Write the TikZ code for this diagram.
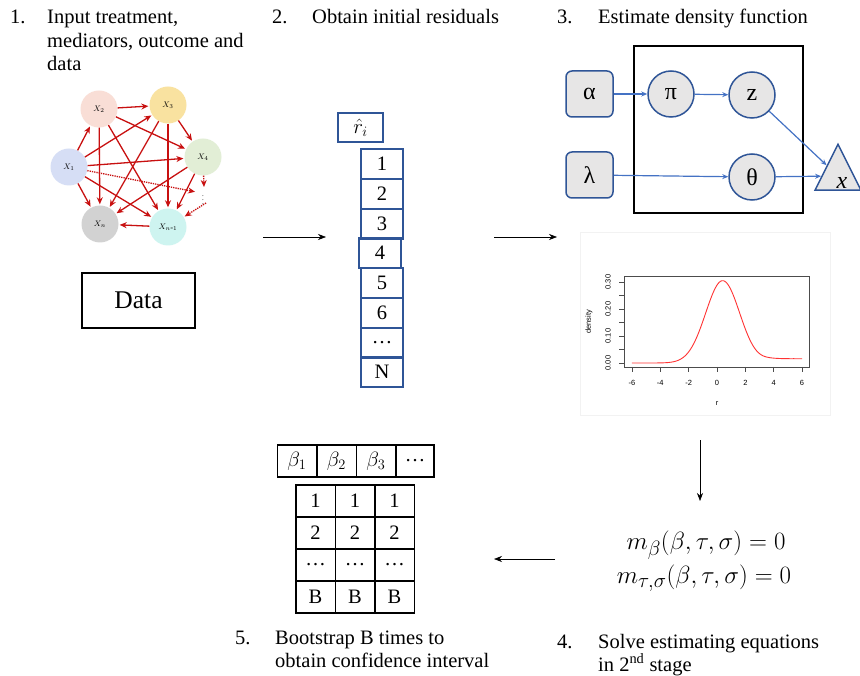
\documentclass[tikz,border=0pt]{standalone}
\usepackage{fontspec}
\setmainfont{Liberation Serif}
\newfontfamily\plotfont{Liberation Sans}
\usetikzlibrary{arrows.meta,shapes.geometric,calc}
\definecolor{edgered}{RGB}{200,16,16}
\definecolor{boxblue}{RGB}{47,85,151}
\definecolor{arrblue}{RGB}{68,114,196}
\definecolor{nodefill}{RGB}{231,230,230}
\definecolor{cA}{RGB}{214,222,245}
\definecolor{cB}{RGB}{249,222,214}
\definecolor{cC}{RGB}{249,226,160}
\definecolor{cD}{RGB}{226,238,214}
\definecolor{cE}{RGB}{210,210,210}
\definecolor{cF}{RGB}{206,244,240}
\begin{document}
\begin{tikzpicture}[x=1pt,y=-1pt,
  title/.style={anchor=base west, font=\fontsize{20.5}{24}\selectfont, inner sep=0},
  gnode/.style={circle, minimum size=37pt, inner sep=0, font=\fontsize{8.5}{9}\selectfont},
  redge/.style={-{Stealth[length=7pt,width=6pt]}, edgered, line width=1.3pt, shorten >=1pt},
  dedge/.style={redge, densely dotted},
  rcell/.style={draw=boxblue, line width=1.5pt, minimum width=42pt, minimum height=30pt, inner sep=0, font=\fontsize{20.5}{24}\selectfont},
  tcell/.style={draw=black, line width=1.5pt, minimum width=39.5pt, minimum height=32pt, inner sep=0, font=\fontsize{20.5}{24}\selectfont},
  hcell/.style={tcell, minimum width=39.5pt},
  pbox/.style={draw=boxblue, line width=1.5pt, fill=nodefill, rounded corners=6pt, minimum width=47pt, minimum height=46pt, inner sep=0, font=\fontsize{24}{28}\selectfont},
  pcirc/.style={draw=boxblue, line width=1.5pt, fill=nodefill, circle, minimum size=46pt, inner sep=0, font=\fontsize{24}{28}\selectfont},
  barrow/.style={-{Stealth[length=6pt,width=5pt]}, arrblue, line width=1.2pt},
  karrow/.style={-{Stealth[length=8pt,width=6pt]}, black, line width=0.6pt},
  plotlbl/.style={font=\plotfont\fontsize{7.5}{8}\selectfont, inner sep=0}
]
\useasboundingbox (0,0) rectangle (860,676);
\fill[white] (0,0) rectangle (860,676);

% ---------- titles ----------
\node[title] (t1n) at (10,24) {1.};
\node[title] (t1a) at (47,24) {Input treatment,};
\node[title] (t1b) at (47,48) {mediators, outcome and};
\node[title] (t1c) at (47,71) {data};
\node[title] (t2n) at (272,24) {2.};
\node[title] (t2a) at (312,24) {Obtain initial residuals};
\node[title] (t3n) at (557,24) {3.};
\node[title] (t3a) at (598,24) {Estimate density function};
\node[title] (t5n) at (235,644) {5.};
\node[title] (t5a) at (275,644) {Bootstrap B times to};
\node[title] (t5b) at (275,667) {obtain confidence interval};
\node[title] (t4n) at (557,648) {4.};
\node[title] (t4a) at (598,648) {Solve estimating equations};
\node[title] (t4b) at (598,671) {in 2\textsuperscript{nd} stage};

% ---------- DAG ----------
\node[gnode, fill=cA] (x1) at (69,167) {$X_1$};
\node[gnode, fill=cB] (x2) at (99,109) {$X_2$};
\node[gnode, fill=cC] (x3) at (168,105) {$X_3$};
\node[gnode, fill=cD] (x4) at (203,157) {$X_4$};
\node[gnode, fill=cE] (xn) at (100,224) {$X_n$};
\node[gnode, fill=cF] (xm) at (168,227) {$X_{n\mbox{-}1}$};
\node[inner sep=0, font=\fontsize{7}{7}\selectfont] (dots) at (203,197) {$\vdots$};
\coordinate (d1) at (196,192);
\coordinate (d2) at (204,188);
\coordinate (d3) at (206,203);

\draw[redge] (x2) -- (x3);
\draw[redge] (x2) -- (x4);
\draw[redge] (x2) -- (xn);
\draw[redge] (x2) -- (xm);
\draw[redge] (x1) -- (x2);
\draw[redge] (x1) -- (x3);
\draw[redge] (x1) -- (x4);
\draw[redge] (x1) -- (xn);
\draw[redge] (x1) -- (xm);
\draw[redge] (x3) -- (x4);
\draw[redge] (x3) -- (xn);
\draw[redge] (x3) -- (xm);
\draw[redge] (x4) -- (xn);
\draw[redge] (x4) -- (xm);
\draw[redge] (xm) -- (xn);
\draw[dedge] (x1) -- (d1);
\draw[dedge] (x4) -- (d2);
\draw[dedge] (d3) -- (xm);

\node[draw, line width=1.5pt, minimum width=113pt, minimum height=55pt, inner sep=0, font=\fontsize{25.5}{28}\selectfont] (data) at (138.5,300.5) {Data};

% ---------- arrows between steps ----------
\coordinate (a1s) at (263,237); \coordinate (a1e) at (326,237);
\draw[karrow] (a1s) -- (a1e);
\coordinate (a2s) at (494,237); \coordinate (a2e) at (557,237);
\draw[karrow] (a2s) -- (a2e);
\coordinate (a3s) at (700,440); \coordinate (a3e) at (700,501);
\draw[karrow] (a3s) -- (a3e);
\coordinate (a4s) at (555,559); \coordinate (a4e) at (494,559);
\draw[karrow] (a4s) -- (a4e);

% ---------- residuals ----------
\node[rcell, minimum width=45pt, minimum height=29pt, font=\fontsize{22}{24}\selectfont] (rh) at (360.5,127.5) {$\hat{r}_i$};
\node[rcell] (c1) at (382,164) {1};
\node[rcell] (c2) at (382,194) {2};
\node[rcell] (c3) at (382,224) {3};
\node[rcell] (c4) at (380,253) {4};
\node[rcell] (c5) at (382,283) {5};
\node[rcell] (c6) at (382,313) {6};
\node[rcell] (c7) at (382,343) {\dots};
\node[rcell] (c8) at (382,372) {N};

% ---------- graphical model ----------
\draw[line width=1.5pt] (634,46) rectangle (803,213);
\node[pbox] (al) at (589.5,94) {α};
\node[pbox] (la) at (589.5,175) {λ};
\node[pcirc] (pi) at (671,94) {π};
\node[pcirc] (zz) at (752,95) {z};
\node[pcirc] (th) at (752,177) {θ};
\node[draw=boxblue, line width=1.5pt, fill=nodefill, isosceles triangle, shape border rotate=90, isosceles triangle stretches, minimum width=46pt, minimum height=46pt, inner sep=0] (tri) at (838,176) {};
\node[inner sep=0, font=\fontsize{24}{28}\selectfont] (xlab) at (842,183) {\textit{x}};
\draw[barrow] (al) -- (pi);
\draw[barrow] (pi) -- (zz);
\draw[barrow] (la) -- (th);
\draw[barrow] (zz) -- (tri);
\draw[barrow] (th) -- (tri);

% ---------- density plot ----------
\draw[black!5, line width=0.6pt] (580,232) rectangle (830,415);
\draw[black!70, line width=0.7pt] (624,276) rectangle (809,367);
\foreach \r in {-6,-4,...,6} {
  \draw[black!70, line width=0.7pt] ({717+14.17*\r},367) -- ({717+14.17*\r},372);
  \node[plotlbl] at ({717+14.17*\r},383) {\r};
}
\foreach \d in {0,0.05,...,0.31} {
  \draw[black!70, line width=0.7pt] (624,{363-270*\d}) -- (619,{363-270*\d});
}
\node[plotlbl, rotate=90] at (608,363) {0.00};
\node[plotlbl, rotate=90] at (608,336) {0.10};
\node[plotlbl, rotate=90] at (608,309) {0.20};
\node[plotlbl, rotate=90] at (608,282) {0.30};
\node[plotlbl, rotate=90] at (589,322) {density};
\node[plotlbl] at (717,403) {r};
\draw[red!80!white, line width=0.9pt, smooth] plot[domain=-6:6, samples=120]
  ({717+14.17*\x},{363-270*(0.305*exp(-((\x-0.4)^2)/(2*1.44)) + 0.016/(1+exp(min(8,-3*(\x-3.2)))))});

% ---------- equations ----------
\node[inner sep=0, font=\fontsize{28}{32}\selectfont] (eq1) at (706,545) {$m_{\beta}(\beta,\tau,\sigma)=0$};
\node[inner sep=0, font=\fontsize{28}{32}\selectfont] (eq2) at (704,578) {$m_{\tau,\sigma}(\beta,\tau,\sigma)=0$};

% ---------- bootstrap table ----------
\node[hcell] (h1) at (297,461) {$\beta_1$};
\node[hcell] (h2) at (336.5,461) {$\beta_2$};
\node[hcell] (h3) at (376,461) {$\beta_3$};
\node[hcell, minimum width=38pt] (h4) at (415,461) {\dots};
\foreach \c/\x in {1/315.5,2/355,3/394.5} {
  \node[tcell] (b1\c) at (\x,501) {1};
  \node[tcell] (b2\c) at (\x,533) {2};
  \node[tcell] (b3\c) at (\x,565) {\dots};
  \node[tcell] (b4\c) at (\x,597) {B};
}
\end{tikzpicture}
\end{document}
